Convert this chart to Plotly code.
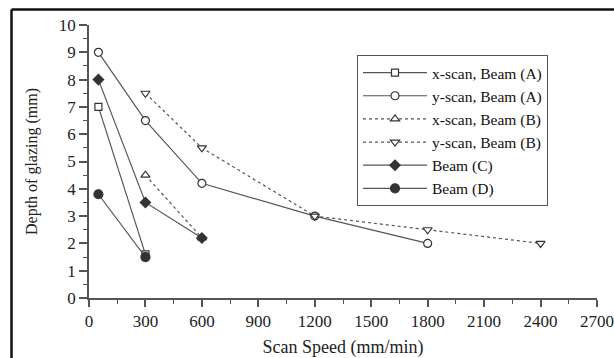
import plotly.graph_objects as go

# ---- data ----
xA_x = [50, 300]
xA_y = [7.0, 1.6]
yA_x = [50, 300, 600, 1200, 1800]
yA_y = [9.0, 6.5, 4.2, 3.0, 2.0]
xB_x = [300, 600]
xB_y = [4.5, 2.2]
yB_x = [300, 600, 1200, 1800, 2400]
yB_y = [7.5, 5.5, 3.0, 2.5, 2.0]
C_x = [50, 300, 600]
C_y = [8.0, 3.5, 2.2]
D_x = [50, 300]
D_y = [3.8, 1.5]

x_ticks = [0, 300, 600, 900, 1200, 1500, 1800, 2100, 2400, 2700]
y_ticks = list(range(0, 11))

FONT = "'Liberation Serif', 'Times New Roman', 'DejaVu Serif', serif"
LC = "#555555"
MC = "#333333"

fig = go.Figure()

def add(x, y, name, symbol, size, dash, filled):
    fig.add_trace(go.Scatter(
        x=x, y=y, name=name, mode="lines+markers",
        line=dict(color=LC, width=1.2, dash=dash),
        marker=dict(symbol=symbol, size=size,
                    color=MC if filled else "white",
                    line=dict(color=MC, width=1.2)),
    ))

add(xA_x, xA_y, "x-scan, Beam (A)", "square", 7, "solid", False)
add(yA_x, yA_y, "y-scan, Beam (A)", "circle", 8, "solid", False)
add(xB_x, xB_y, "x-scan, Beam (B)", "triangle-up", 8, "dot", False)
add(yB_x, yB_y, "y-scan, Beam (B)", "triangle-down", 8, "dot", False)
add(C_x, C_y, "Beam (C)", "diamond", 8, "solid", True)
add(D_x, D_y, "Beam (D)", "circle", 9, "solid", True)

L, R, T, B = 89, 17, 25, 60
W, H = 614, 358
pw, ph = W - L - R, H - T - B

def px(xp):
    return (xp - L) / pw

def py(yp):
    return (H - B - yp) / ph

fig.update_layout(
    width=W, height=H,
    margin=dict(l=L, r=R, t=T, b=B, autoexpand=False),
    paper_bgcolor="white", plot_bgcolor="white",
    font=dict(family=FONT, color="#222222", size=15),
    showlegend=True,
    legend=dict(
        x=px(357), y=py(55), xanchor="left", yanchor="top",
        bordercolor="#555555", borderwidth=1, bgcolor="white",
        font=dict(family=FONT, size=15.5, color="#111111"),
        itemwidth=64, tracegroupgap=0,
    ),
    xaxis=dict(
        range=[0, 2700], tickvals=x_ticks, automargin=False,
        showgrid=False, zeroline=False,
        showline=True, linecolor="#555555", linewidth=1.5,
        ticks="outside", ticklen=7, tickwidth=1.5, tickcolor="#555555",
        minor=dict(dtick=150, ticks="outside", ticklen=4, tickwidth=1.2, tickcolor="#555555"),
        tickfont=dict(family=FONT, size=17, color="#222222"),
        title=dict(text="Scan Speed (mm/min)", font=dict(family=FONT, size=18, color="#222222"), standoff=14),
    ),
    yaxis=dict(
        range=[0, 10], tickvals=y_ticks, automargin=False,
        showgrid=False, zeroline=False,
        showline=True, linecolor="#555555", linewidth=1.5,
        ticks="outside", ticklen=8, tickwidth=1.5, tickcolor="#555555",
        minor=dict(dtick=0.5, ticks="outside", ticklen=4, tickwidth=1.2, tickcolor="#555555"),
        tickfont=dict(family=FONT, size=17, color="#222222"),
        title=dict(text="Depth of glazing (mm)", font=dict(family=FONT, size=16, color="#222222"), standoff=17),
    ),
    shapes=[
        dict(type="line", xref="paper", yref="paper",
             x0=px(11.5), x1=px(11.5), y0=py(9.5), y1=py(H + 5),
             line=dict(color="#111111", width=2.5)),
        dict(type="line", xref="paper", yref="paper",
             x0=px(11.5), x1=px(W + 5), y0=py(9.5), y1=py(9.5),
             line=dict(color="#111111", width=2.5)),
    ],
)

fig.write_html("out.html")
